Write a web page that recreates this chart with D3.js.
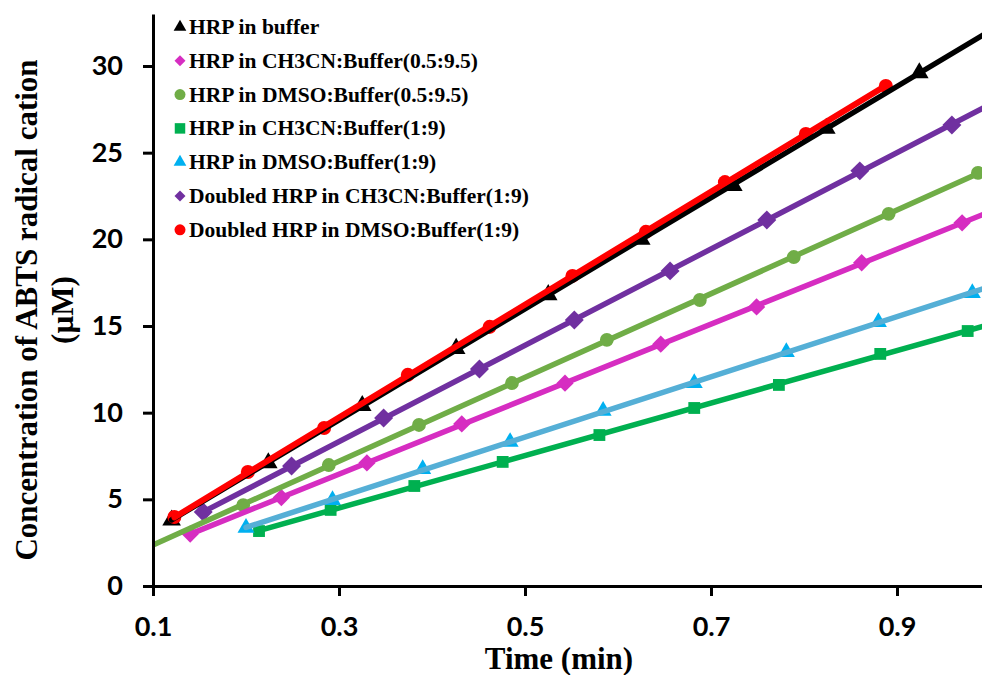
<!DOCTYPE html>
<html>
<head>
<meta charset="utf-8">
<script src="https://cdn.jsdelivr.net/npm/d3@7"></script>
<style>
body {margin:0; background:#fff;}
svg {display:block;}
</style>
</head>
<body>
<div class="container"></div>
<script>

// data -------------------------------------------------------------------------------
var seriesNames = ['HRP in buffer', 'HRP in CH3CN:Buffer(0.5:9.5)', 'HRP in DMSO:Buffer(0.5:9.5)',
	'HRP in CH3CN:Buffer(1:9)', 'HRP in DMSO:Buffer(1:9)', 'Doubled HRP in CH3CN:Buffer(1:9)',
	'Doubled HRP in DMSO:Buffer(1:9)'];

var bufferTime = [0.120, 0.224, 0.325, 0.426, 0.525, 0.625, 0.724, 0.824, 0.924];
var bufferConc = [3.8, 7.1, 10.4, 13.7, 16.8, 20.0, 23.1, 26.4, 29.6];

var ch3cn05Time = [0.140, 0.238, 0.330, 0.432, 0.543, 0.646, 0.749, 0.862, 0.970];
var ch3cn05Conc = [3.0, 5.1, 7.1, 9.35, 11.7, 13.95, 16.1, 18.65, 20.95];

var dmso05Time = [0.197, 0.289, 0.386, 0.486, 0.588, 0.688, 0.789, 0.891, 0.987];
var dmso05Conc = [4.67, 6.98, 9.29, 11.71, 14.2, 16.5, 18.98, 21.47, 23.83];

var ch3cn19Time = [0.214, 0.291, 0.381, 0.476, 0.580, 0.682, 0.773, 0.882, 0.976];
var ch3cn19Conc = [3.17, 4.39, 5.77, 7.16, 8.71, 10.27, 11.6, 13.39, 14.71];

var dmso19Time = [0.200, 0.293, 0.390, 0.484, 0.584, 0.682, 0.781, 0.880, 0.981];
var dmso19Conc = [3.35, 4.96, 6.75, 8.31, 10.1, 11.71, 13.5, 15.23, 16.9];

var dblCh3cnTime = [0.154, 0.249, 0.348, 0.451, 0.553, 0.656, 0.760, 0.860, 0.959];
var dblCh3cnConc = [4.27, 6.92, 9.69, 12.52, 15.35, 18.18, 21.12, 23.95, 26.6];

var dblDmsoTime = [0.123, 0.202, 0.284, 0.374, 0.462, 0.551, 0.630, 0.715, 0.802, 0.888];
var dblDmsoConc = [3.98, 6.58, 9.12, 12.18, 14.95, 17.89, 20.43, 23.3, 26.08, 28.85];

// trendline range (null = data range)
var trendFrom = [null, null, 0.1, null, null, null, null];
var trendTo = [1.0, 1.0, 1.0, 1.0, 1.0, 1.0, null];

var xTicks = [0.1, 0.3, 0.5, 0.7, 0.9];
var yTicks = [0, 5, 10, 15, 20, 25, 30];

// looks -------------------------------------------------------------------------------
var markerColors = ['#000000', '#D62DC1', '#70AD47', '#00B050', '#00B0F0', '#7030A0', '#FF0000'];
var lineColors = ['#000000', '#D62DC1', '#70AD47', '#00B050', '#55AFD6', '#7030A0', '#FF0000'];
var shapes = ['triangle', 'diamond', 'circle', 'square', 'triangle', 'diamond', 'circle'];
var markerSizes = [150, 150, 150, 140, 125, 180, 155];

var WIDTH = 982, HEIGHT = 675;

var xScale = d3.scaleLinear().domain([0.1, 1.0]).range([153, 990]);
var yScale = d3.scaleLinear().domain([0, 33]).range([586, 14]);

var symbolPath = function(shape, size) {
	if (shape == 'triangle') return d3.symbol().type(d3.symbolTriangle).size(size)();
	if (shape == 'circle') return d3.symbol().type(d3.symbolCircle).size(size)();
	return d3.symbol().type(d3.symbolSquare).size(size)();
}

var appendMarker = function(group, shape, size, color, x, y) {
	var rot = shape == 'diamond' ? ' rotate(45)' : '';
	return group.append('path')
		.attr('d', symbolPath(shape, size))
		.attr('transform', 'translate(' + x + ',' + y + ')' + rot)
		.attr('fill', color);
}

var fitLine = function(xs, ys) {
	var mx = d3.mean(xs), my = d3.mean(ys);
	var sxy = d3.sum(xs, function(d, i) {return (d - mx) * (ys[i] - my)});
	var sxx = d3.sum(xs, function(d) {return (d - mx) * (d - mx)});
	var slope = sxy / sxx;
	return {slope: slope, intercept: my - slope * mx};
}

var loadChart = function() {
	var times = [bufferTime, ch3cn05Time, dmso05Time, ch3cn19Time, dmso19Time, dblCh3cnTime, dblDmsoTime];
	var concs = [bufferConc, ch3cn05Conc, dmso05Conc, ch3cn19Conc, dmso19Conc, dblCh3cnConc, dblDmsoConc];

	var svg = d3.select('.container').append('svg')
		.attr('width', WIDTH)
		.attr('height', HEIGHT);

	svg.append('clipPath').attr('id', 'plot')
		.append('rect').attr('x', 153).attr('y', 0).attr('width', 829).attr('height', 586);

	var plot = svg.append('g').attr('clip-path', 'url(#plot)');

	// markers first, trendlines on top
	times.forEach(function(ts, s) {
		ts.forEach(function(t, i) {
			appendMarker(plot, shapes[s], markerSizes[s], markerColors[s], xScale(t), yScale(concs[s][i]));
		});
	});

	times.forEach(function(ts, s) {
		var fit = fitLine(ts, concs[s]);
		var x0 = trendFrom[s] == null ? d3.min(ts) : trendFrom[s];
		var x1 = trendTo[s] == null ? d3.max(ts) : trendTo[s];
		plot.append('line')
			.attr('x1', xScale(x0)).attr('y1', yScale(fit.intercept + fit.slope * x0))
			.attr('x2', xScale(x1)).attr('y2', yScale(fit.intercept + fit.slope * x1))
			.attr('stroke', lineColors[s])
			.attr('stroke-width', s == 6 ? 6 : 5.5)
			.attr('stroke-linecap', 'round');
	});

	// axes
	var yAxis = d3.axisLeft(yScale).tickValues(yTicks).tickSize(10).tickSizeOuter(0).tickPadding(20).tickFormat(d3.format('d'));
	var xAxis = d3.axisBottom(xScale).tickValues(xTicks).tickSize(10).tickSizeOuter(0).tickPadding(21).tickFormat(d3.format('.1f'));

	var gy = svg.append('g').attr('transform', 'translate(153,0)').call(yAxis);
	var gx = svg.append('g').attr('transform', 'translate(0,586)').call(xAxis);

	[gx, gy].forEach(function(g) {
		g.select('.domain').attr('stroke', '#000').attr('stroke-width', 3);
		g.selectAll('.tick line').attr('stroke', '#000').attr('stroke-width', 3);
		g.selectAll('.tick text')
			.attr('fill', '#000')
			.style('font-family', 'Lato, "Open Sans", sans-serif')
			.style('font-weight', 'bold')
			.style('font-size', '27px');
	});

	// titles
	svg.append('text')
		.attr('x', 559).attr('y', 669)
		.attr('text-anchor', 'middle')
		.style('font-family', '"Liberation Serif", "Times New Roman", serif')
		.style('font-weight', 'bold')
		.style('font-size', '31px')
		.text('Time (min)');

	var yTitle = svg.append('g').attr('transform', 'translate(0,310) rotate(-90)');
	yTitle.append('text')
		.attr('x', 0).attr('y', 37)
		.attr('text-anchor', 'middle')
		.style('font-family', '"Liberation Serif", "Times New Roman", serif')
		.style('font-weight', 'bold')
		.style('font-size', '31px')
		.text('Concentration of ABTS radical cation');
	yTitle.append('text')
		.attr('x', 0).attr('y', 73)
		.attr('text-anchor', 'middle')
		.style('font-family', '"Liberation Serif", "Times New Roman", serif')
		.style('font-weight', 'bold')
		.style('font-size', '31px')
		.text('(\u00B5M)');

	// legend
	var legend = svg.append('g');
	seriesNames.forEach(function(name, s) {
		var cy = 27 + s * 33.8;
		var legSize = shapes[s] == 'triangle' ? 70 : (shapes[s] == 'circle' ? 95 : (shapes[s] == 'diamond' ? 60 : 110));
		appendMarker(legend, shapes[s], legSize, markerColors[s], 180, cy);
		legend.append('text')
			.attr('x', 189).attr('y', cy + 7)
			.style('font-family', '"Liberation Serif", "Times New Roman", serif')
			.style('font-weight', 'bold')
			.style('font-size', '21.5px')
			.text(name);
	});
};

window.onload = function() {
	loadChart();
}
</script>
</body>
</html>
